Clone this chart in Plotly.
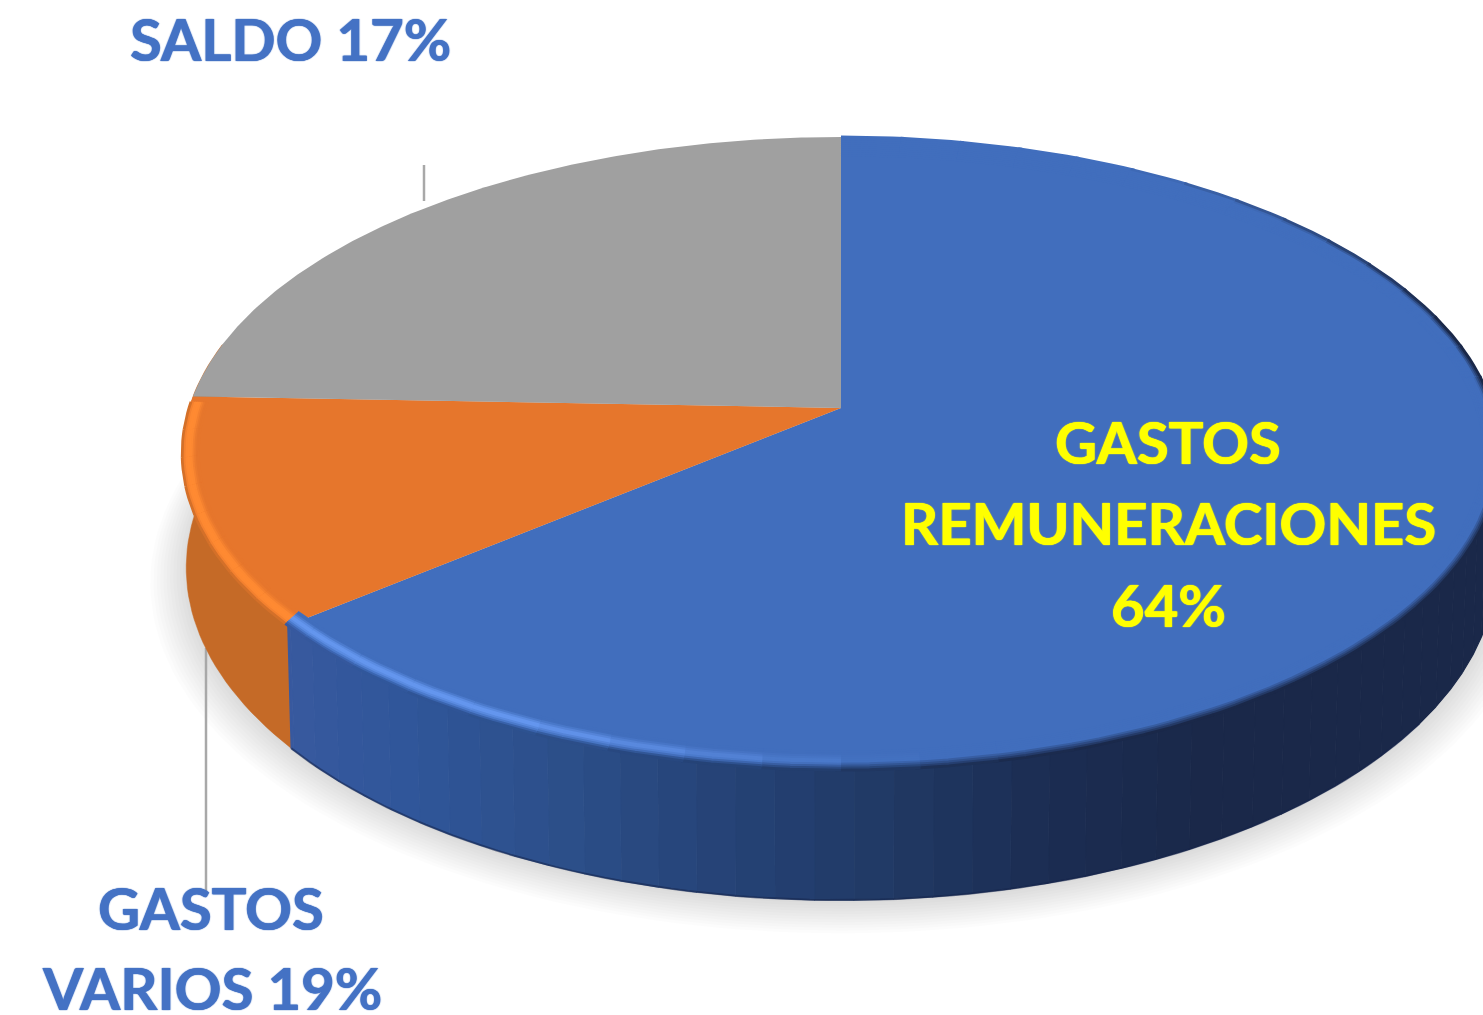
import numpy as np
import plotly.graph_objects as go

# Slice shares as drawn in the picture (clockwise from twelve o'clock)
slice_names = ["GASTOS REMUNERACIONES", "GASTOS VARIOS", "SALDO"]
slice_shares = [64.0, 11.6, 24.4]
slice_colors = ["#416ebd", "#e6762c", "#a0a0a0"]
wall_colors = ["#2f5596", "#c56a27", "#808080"]

# Data labels as printed in the picture
label_lines = ["SALDO 17%", "GASTOS", "VARIOS 19%", "GASTOS", "REMUNERACIONES", "64%"]
label_x = [290, 211, 212, 1168, 1168, 1168]
label_y = [38, 907, 987, 441, 522, 604]
label_colors = ["#4472c4"] * 3 + ["#ffff00"] * 3

W, H = 1483, 1015
CX, K = 841.0, 0.1438
TOP = dict(y0=408.0, a=310.0, f=652.0)
BOT = dict(y0=520.0, a=325.5, f=648.0)


def proj(theta_deg, p, inset=0.0):
    t = np.radians(theta_deg)
    u, v = np.sin(t), np.cos(t)
    w = 1 + K * v
    return CX + p["f"] * u / w - inset * 0.9 * u, p["y0"] - p["a"] * v / w + inset * v


def poly(x, y, color, stroke=0):
    return go.Scatter(x=list(x), y=list(y), mode="lines", fill="toself", fillcolor=color,
                      line=dict(width=stroke, color=color), hoverinfo="skip", showlegend=False)


def to_rgb(h):
    return np.array([int(h[i:i + 2], 16) for i in (1, 3, 5)], dtype=float)


def css(c):
    return "rgb(%d,%d,%d)" % tuple(np.round(c))


def mix(a, b, t):
    return a + (b - a) * float(np.clip(t, 0, 1))


def lerp_stops(stops, xv):
    xs = [s[0] for s in stops]
    arr = np.array([to_rgb(s[1]) for s in stops])
    return np.array([np.interp(xv, xs, arr[:, i]) for i in range(3)])


fig = go.Figure()

# soft ground shadow
for i in range(12):
    grow = 1 + (11 - i) * 0.005
    th = np.linspace(0, 360, 241)
    x, y = proj(th, BOT)
    fig.add_trace(poly(CX + (x - CX) * grow, 530 + (y - 530) * grow + 3 + (11 - i) * 0.9, "rgba(0,0,0,0.0125)"))

# leader lines
for lx, ly in [([424, 424], [165, 201]), ([206, 206], [648, 892])]:
    fig.add_trace(go.Scatter(x=lx, y=ly, mode="lines", line=dict(color="#a8a8a8", width=2.5),
                             hoverinfo="skip", showlegend=False))

# side wall, in vertical bands
ends = np.cumsum(slice_shares) * 3.6
blue_stops = [(285, "#38599f"), (400, "#30569a"), (560, "#2c4f8a"), (700, "#264479"),
              (900, "#203863"), (1050, "#1b2c52"), (1200, "#1a2849"), (1483, "#1a2849")]
edges = np.append(np.arange(50, ends[0], 3.0), ends[0])
for a, b in zip(edges[:-1], edges[1:]):
    th = np.linspace(a, b, 5)
    xt, yt = proj(th, TOP)
    xb, yb = proj(th[::-1], BOT)
    c = lerp_stops(blue_stops, (xt.mean() + xb.mean()) / 2)
    fig.add_trace(poly(np.r_[xt, xb], np.r_[yt, yb], css(c), stroke=1.2))
th = np.linspace(ends[0], ends[1] + 10, 40)
xt, yt = proj(th, TOP)
xb, yb = proj(th[::-1], BOT)
fig.add_trace(poly(np.r_[xt, xb], np.r_[yt, yb], wall_colors[1], stroke=0.5))
# re-lay the first blue band edge over the orange
xa, ya = proj(np.array([ends[0]]), TOP)
xc, yc = proj(np.array([ends[0]]), BOT)
fig.add_trace(go.Scatter(x=[xa[0], xc[0]], y=[ya[0], yc[0]], mode="lines",
                         line=dict(color="#38599f", width=1.5), hoverinfo="skip", showlegend=False))
# dark lower edge of the wall
th = np.linspace(125, ends[0], 80)
xb, yb = proj(th, BOT)
fig.add_trace(go.Scatter(x=xb, y=yb, mode="lines", line=dict(color="rgba(22,36,74,0.55)", width=2),
                         hoverinfo="skip", showlegend=False))

# top face slices
start = 0.0
for share, col in zip(slice_shares, slice_colors):
    end = start + share * 3.6
    th = np.linspace(start, end, 200)
    x, y = proj(th, TOP)
    fig.add_trace(poly(np.r_[CX, x, CX], np.r_[TOP["y0"], y, TOP["y0"]], col))
    start = end


# bevel shading on the rim of the top face
def rim(a, b, color, width, inset):
    th = np.linspace(a, b, 6)
    x, y = proj(th, TOP, inset)
    fig.add_trace(go.Scatter(x=x, y=y, mode="lines", line=dict(color=color, width=width),
                             hoverinfo="skip", showlegend=False))


face_o, hi_o, edge_o = to_rgb(slice_colors[1]), to_rgb("#ff8a32"), to_rgb(wall_colors[1])
insets = np.arange(18, -1, -2.0)

# orange rim
o_edges = np.linspace(ends[0], ends[1] - 1, 9)
for a, b in zip(o_edges[:-1], o_edges[1:]):
    for d in insets:
        c = mix(face_o, hi_o, 1.5 * (1 - abs(d - 7) / 8))
        if d < 2:
            c = mix(c, edge_o, 0.6 * (1 - d / 2))
        rim(a, b, css(c), 2.8, d)

# blue rim
face_b, hi_b, dark_b = to_rgb(slice_colors[0]), to_rgb("#6496ee"), to_rgb("#1a2849")
b_edges = np.append(np.arange(0, ends[0], 6.0), ends[0])
for a, b in zip(b_edges[:-1], b_edges[1:]):
    m = (a + b) / 2
    s = np.clip((m - 30) / 70, 0, 1)
    h = np.clip((m - 175) / 35, 0, 1)
    xm = proj(np.array([m]), TOP)[0][0]
    wall_here = lerp_stops(blue_stops, xm)
    edge_col = mix(dark_b, wall_here, np.clip((m - 150) / 30, 0, 1))
    for d in insets:
        reach = 1 + 7 * s * (1 - 0.7 * h)
        c = mix(face_b, edge_col, (1 - d / reach) * min(1.0, s * 1.6))
        c = mix(c, hi_b, h * 1.4 * (1 - abs(d - 9) / 6.5))
        rim(a, b + 0.4, css(c), 2.8, d)

for txt, lx, ly, col in zip(label_lines, label_x, label_y, label_colors):
    fig.add_annotation(x=lx, y=ly, text=txt, showarrow=False, xanchor="center", yanchor="middle",
                       font=dict(family="Lato", size=58, color=col, weight=700,
                                 shadow=f"0.6px 0 1px {col}, -0.6px 0 1px {col}"))

fig.update_layout(width=W, height=H, margin=dict(l=0, r=0, t=0, b=0), autosize=False,
                  paper_bgcolor="white", plot_bgcolor="white", showlegend=False,
                  xaxis=dict(range=[0, W], visible=False, fixedrange=True),
                  yaxis=dict(range=[H, 0], visible=False, fixedrange=True))
fig.write_html("out.html", config=dict(displayModeBar=False),
               post_script="document.body.style.margin='0';document.documentElement.style.overflow='hidden';")
